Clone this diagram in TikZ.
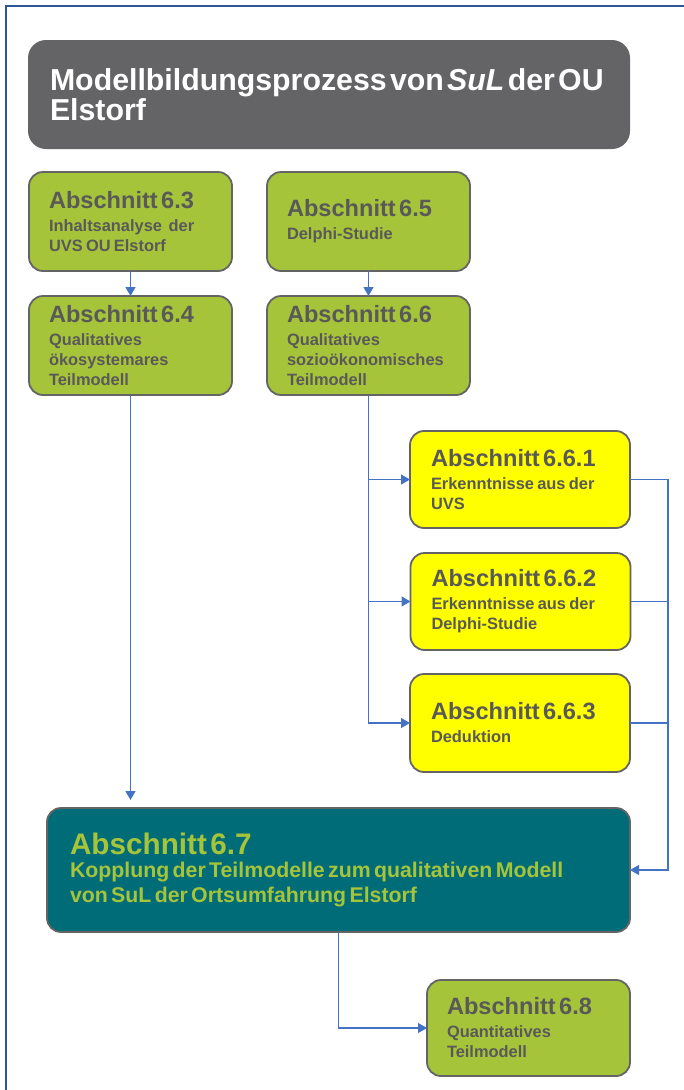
\documentclass[tikz,border=0pt]{standalone}
\usepackage{fontspec}
\setmainfont[WordSpace=1.25]{Liberation Sans}
\usetikzlibrary{arrows.meta}
\definecolor{framecol}{RGB}{47,85,151}
\definecolor{titlegray}{RGB}{100,100,102}
\definecolor{secgreen}{RGB}{166,196,58}
\definecolor{boxgray}{RGB}{100,100,100}
\definecolor{txtgray}{RGB}{89,89,89}
\definecolor{tealbox}{RGB}{0,108,120}
\definecolor{connblue}{RGB}{68,114,196}
\definecolor{ybright}{RGB}{255,255,0}
\newcommand{\sectxt}[2]{{\fontsize{23.6}{23.6}\selectfont\bfseries #1\par}\vspace{3pt}{\fontsize{16.4}{20}\selectfont\bfseries #2\par}}
\tikzset{
  secbox/.style={draw=boxgray, line width=1.8pt, rounded corners=14pt, fill=secgreen,
    text=txtgray, inner xsep=20pt, inner ysep=0pt, outer sep=0pt, align=left},
  ybox/.style={secbox, fill=ybright, inner xsep=21pt},
  conn/.style={draw=connblue, line width=1.2pt},
  arr/.style={conn, -{Triangle[width=10pt,length=9pt]}},
}
\begin{document}
\begin{tikzpicture}[x=1pt,y=-1pt]
\useasboundingbox (0,0) rectangle (683,1090);
\draw[framecol, line width=2.5pt] (6,1092) -- (6,6) -- (685,6);

\node[fill=titlegray, rounded corners=18pt, minimum width=602pt, minimum height=109pt,
  text width=558pt, inner xsep=22pt, inner ysep=0pt, outer sep=0pt, align=left, text=white]
  (title) at (329,94.5)
  {\fontsize{30.3}{34}\selectfont\bfseries Modellbildungsprozess von \textit{SuL} der OU\\Elstorf};

\node[secbox, minimum width=203pt, minimum height=99pt, text width=163pt] (b63) at (130.5,221.5)
  {\sectxt{Abschnitt 6.3}{Inhaltsanalyse\ \ der\\UVS OU Elstorf}};
\node[secbox, minimum width=203pt, minimum height=99pt, text width=163pt] (b65) at (368.5,221.5)
  {\sectxt{Abschnitt 6.5}{Delphi-Studie}};
\node[secbox, minimum width=203pt, minimum height=99pt, text width=163pt] (b64) at (130.5,345.5)
  {\sectxt{Abschnitt 6.4}{Qualitatives\\ökosystemares\\Teilmodell}};
\node[secbox, minimum width=203pt, minimum height=99pt, text width=163pt] (b66) at (368.5,345.5)
  {\sectxt{Abschnitt 6.6}{Qualitatives\\sozioökonomisches\\Teilmodell}};

\node[ybox, minimum width=220pt, minimum height=97pt, text width=178pt] (b661) at (520,479.5)
  {\sectxt{Abschnitt 6.6.1}{Erkenntnisse aus der\\UVS}};
\node[ybox, minimum width=220pt, minimum height=97pt, text width=178pt] (b662) at (520.5,601.5)
  {\sectxt{Abschnitt 6.6.2}{Erkenntnisse aus der\\Delphi-Studie}};
\node[ybox, minimum width=220pt, minimum height=98pt, text width=178pt] (b663) at (520,723)
  {\sectxt{Abschnitt 6.6.3}{Deduktion}};

\node[secbox, fill=tealbox, text=secgreen, inner xsep=23pt, minimum width=583pt, minimum height=124pt,
  text width=537pt] (b67) at (338.5,870)
  {{\fontsize{29.7}{29.7}\selectfont\bfseries Abschnitt 6.7\par}\vspace{-2pt}{\fontsize{21.3}{25}\selectfont\bfseries Kopplung der Teilmodelle zum qualitativen Modell\\von SuL der Ortsumfahrung Elstorf\par}};

\node[secbox, minimum width=203pt, minimum height=96pt, text width=163pt] (b68) at (528.5,1028)
  {\sectxt{Abschnitt 6.8}{Quantitatives\\Teilmodell}};

\coordinate (busR) at (668,870);

\draw[arr] (b63.south) -- (b64.north);
\draw[arr] (b65.south) -- (b66.north);
\draw[arr, shorten >=8pt] (b64.south) -- (b64.south |- b67.north);

\draw[arr] (b66.south) |- (b663.west);
\draw[arr] (b66.south |- b661.west) -- (b661.west);
\draw[arr] (b66.south |- b662.west) -- (b662.west);

\draw[arr] (b661.east) -| (busR) -- (b67.east);
\draw[conn] (b662.east) -- (b662.east -| busR);
\draw[conn] (b663.east) -- (b663.east -| busR);

\draw[arr] (b67.south) |- (b68.west);
\end{tikzpicture}
\end{document}
